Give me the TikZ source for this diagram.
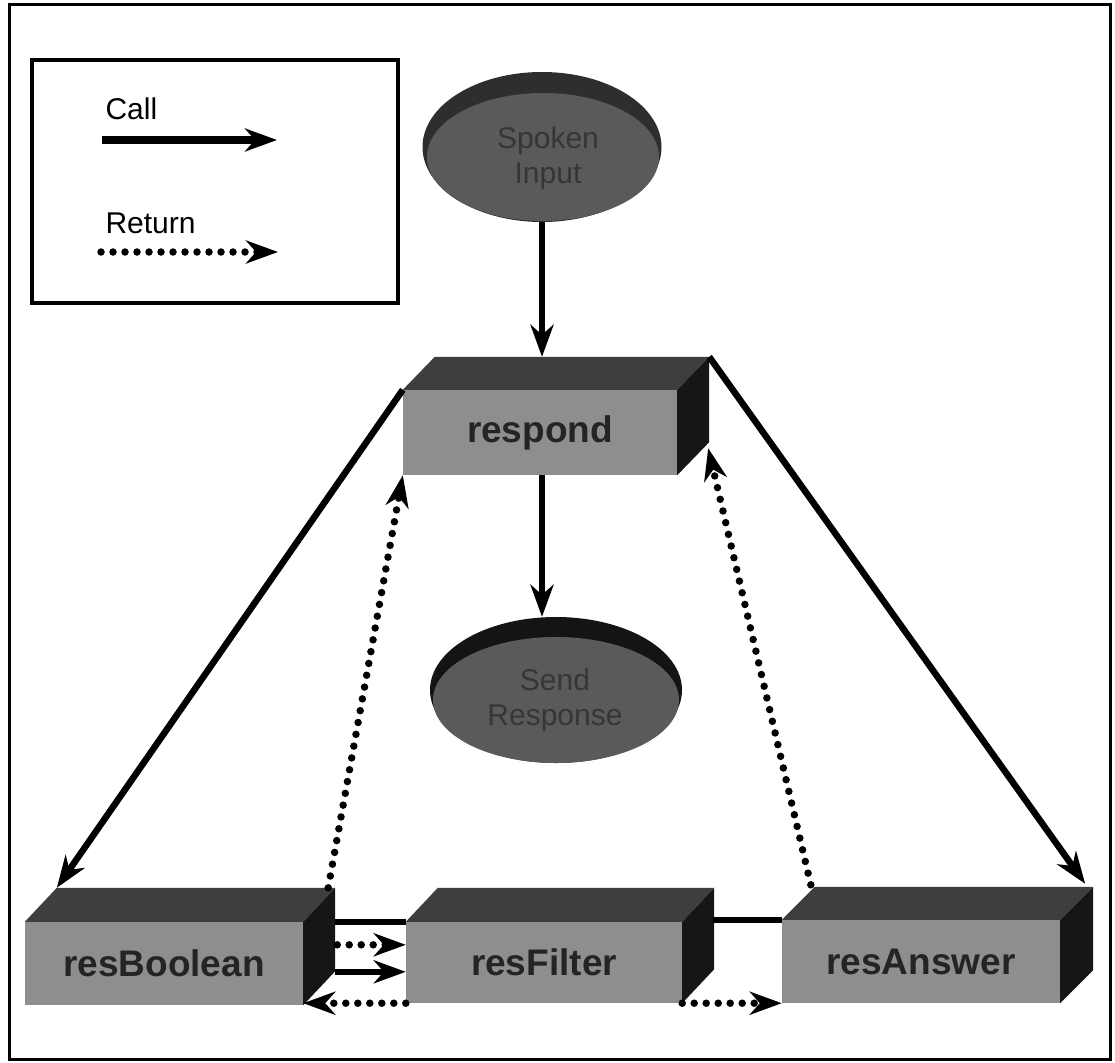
\documentclass[tikz,border=0pt]{standalone}
\usepackage{fontspec}
\setmainfont{Liberation Sans}
\usetikzlibrary{arrows.meta,calc,shapes.geometric}
\definecolor{frontc}{HTML}{8E8E8E}
\definecolor{topc}{HTML}{3E3E3E}
\definecolor{sidec}{HTML}{161616}
\definecolor{boxtext}{HTML}{242424}
\definecolor{ellbody}{HTML}{5A5A5A}
\definecolor{elltop}{HTML}{2E2E2E}
\definecolor{elltext}{HTML}{363636}
\tikzset{
  frontface/.style={rectangle, fill=frontc, inner sep=0pt, text=boxtext,
    font=\fontsize{37}{40}\selectfont\bfseries},
  ellout/.style={ellipse, inner sep=0pt},
  elltxt/.style={align=center, text=elltext, font=\fontsize{30}{35}\selectfont},
  callarrow/.style={line width=6.5pt, -{Stealth[length=32pt, width=23pt, inset=10pt]}},
  callline/.style={line width=6.5pt},
  retarrow/.style={line width=7.5pt, line cap=round, dash pattern=on 0pt off 12pt,
    -{Stealth[length=32pt, width=23pt, inset=10pt]}},
  legtxt/.style={anchor=base west, font=\fontsize{30}{36}\selectfont},
}
\newcommand\boxfaces[3]{%
  \fill[topc] (#1.north west) -- ++(#2,-#3) -- ($(#1.north east)+(#2,-#3)$) -- (#1.north east) -- cycle;
  \fill[sidec] (#1.north east) -- ++(#2,-#3) -- ($(#1.south east)+(#2,-#3)$) -- (#1.south east) -- cycle;}
\begin{document}
\begin{tikzpicture}[x=1pt,y=-1pt]
\useasboundingbox (0,0) rectangle (1115,1062);
\draw[line width=3pt] (9,5) rectangle (1110,1059);

% legend
\node[draw, line width=4pt, minimum width=366pt, minimum height=243pt, inner sep=0pt] (legend) at (215,181.5) {};
\node[legtxt] (calltxt) at (102,120) {Call};
\coordinate (callA) at (102,140);
\coordinate (callB) at (277,140);
\draw[callarrow, line width=8pt] (callA) -- (callB);
\node[legtxt] (rettxt) at (102,233) {Return};
\coordinate (retA) at (101,252);
\coordinate (retB) at (278,252);
\draw[retarrow] (retA) -- (retB);

% ellipses
\node[ellout, fill=elltop, minimum width=239pt, minimum height=150pt] (spoken) at (542,147) {};
\node[ellout, fill=ellbody, minimum width=232pt, minimum height=128pt] (spokenbody) at (543,157) {};
\node[elltxt] (spokentxt) at (548,158) {Spoken\\Input};

\node[ellout, fill=black!92, minimum width=252pt, minimum height=146pt] (send) at (556,690) {};
\node[ellout, fill=ellbody, minimum width=246pt, minimum height=126pt] (sendbody) at (556,700) {};
\node[elltxt] (sendtxt) at (555,700) {Send\\Response};

% boxes
\node[frontface, minimum width=274pt, minimum height=85pt] (respond) at (540,432.5) {respond};
\boxfaces{respond}{32}{33}
\node[frontface, minimum width=278pt, minimum height=83pt] (resBoolean) at (164,963.5) {resBoolean};
\boxfaces{resBoolean}{32}{34}
\node[frontface, minimum width=276pt, minimum height=81pt] (resFilter) at (544,962.5) {resFilter};
\boxfaces{resFilter}{32}{34}
\node[frontface, minimum width=278pt, minimum height=83pt] (resAnswer) at (921,961.5) {resAnswer};
\boxfaces{resAnswer}{33}{33}

% connector coordinates
\coordinate (respondBack) at ($(respond.north)+(0,-33)$);
\coordinate (respondBR) at ($(respond.north east)+(32,-33)$);
\coordinate (respondSide) at ($(respond.south east)+(31,-27)$);
\coordinate (rbBL) at ($(resBoolean.north west)+(32,-34)$);
\coordinate (rbBR) at ($(resBoolean.north east)+(25,-34)$);
\coordinate (rbEdgeTop) at ($(resBoolean.north east)+(32,0)$);
\coordinate (rbDot) at ($(resBoolean.north east)+(34,23)$);
\coordinate (rbCall) at ($(resBoolean.north east)+(32,50)$);
\coordinate (rfEdgeTop) at ($(resFilter.north east)+(31,-2)$);
\coordinate (raBL) at ($(resAnswer.north west)+(29,-35)$);
\coordinate (raTip) at ($(resAnswer.north east)+(25,-36)$);

% calls
\draw[callarrow] (spoken.south) -- (spoken.south |- respondBack);
\draw[callarrow] (spoken.south |- respond.south) -- (spoken.south |- send.north);
\draw[callarrow] (respond.north west) -- (rbBL);
\draw[callarrow] (respondBR) -- (raTip);
\draw[callline] (rbEdgeTop) -- (resFilter.north west);
\draw[callarrow] (rbCall) -- (rbCall -| resFilter.west);
\draw[callline] (rfEdgeTop) -- (resAnswer.north west);

% returns
\draw[retarrow] (rbBR) -- (respond.south west);
\draw[retarrow] (raBL) -- (respondSide);
\draw[retarrow] (rbDot) -- (rbDot -| resFilter.west);
\draw[retarrow] (resFilter.south west) -- (resFilter.south west -| resBoolean.south east);
\draw[retarrow] (resFilter.south east) -- (resAnswer.south west);
\end{tikzpicture}
\end{document}
